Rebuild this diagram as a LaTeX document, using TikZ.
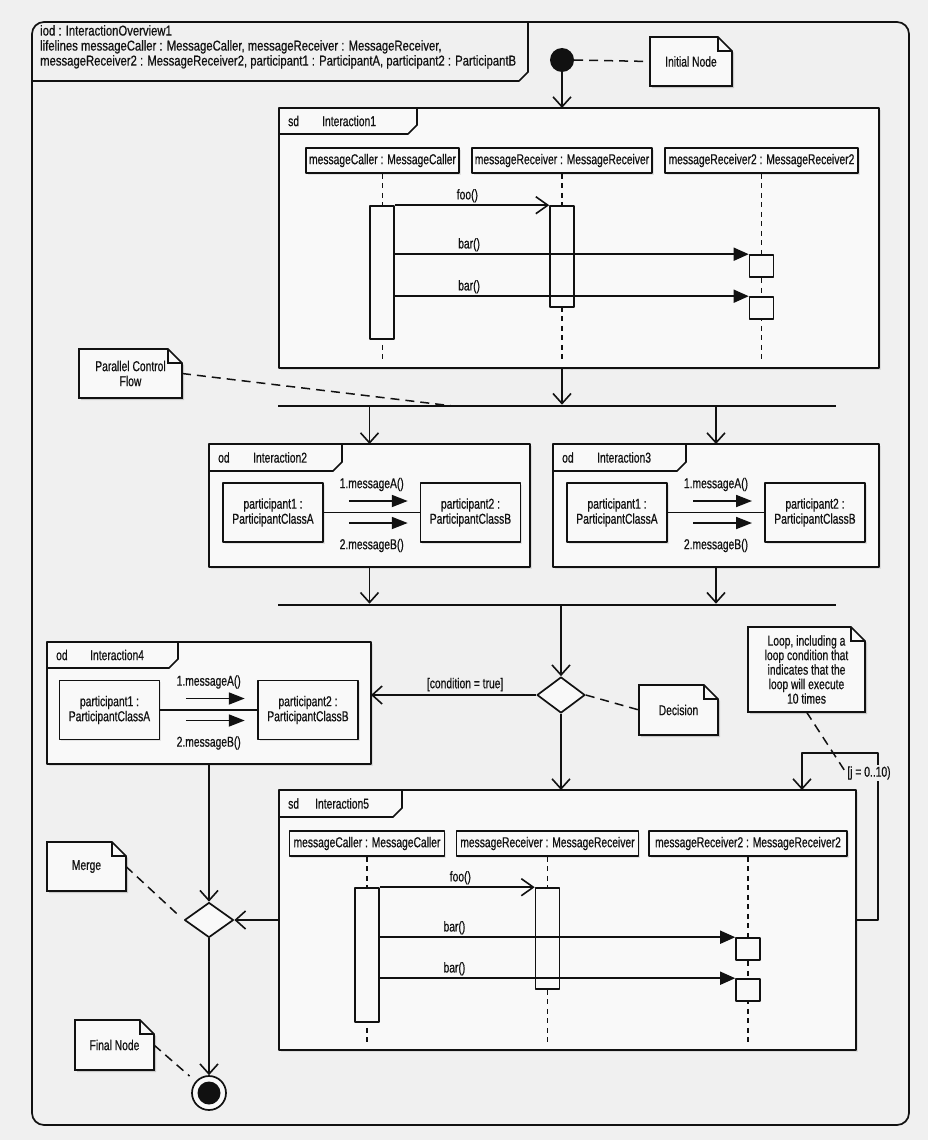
\documentclass[tikz,border=0pt]{standalone}
\usepackage{fontspec}
\setmainfont{Liberation Sans}[FakeStretch=0.72, FakeBold=0.6]
\newfontfamily\hdrfont{Liberation Sans}[FakeStretch=0.79, FakeBold=0.6]
\usetikzlibrary{arrows.meta,shadows,calc,shapes.geometric}
\definecolor{bg}{HTML}{F0F0F0}
\definecolor{boxfill}{HTML}{F9F9F9}
\definecolor{ink}{HTML}{111111}
\pgfdeclarelayer{back}
\pgfdeclarelayer{notes}
\pgfsetlayers{back,notes,main}
\tikzset{
 outline/.style={draw=ink, line width=1.7pt},
 frame/.style={outline, fill=boxfill, inner sep=0pt, outer sep=0pt, drop shadow={shadow xshift=2pt,shadow yshift=-2pt,opacity=.18}},
 head/.style={outline, line width=1.6pt, fill=boxfill, inner sep=2pt, minimum height=25pt, drop shadow={shadow xshift=1.5pt,shadow yshift=-1.5pt,opacity=.18}},
 act/.style={outline, line width=1.6pt, fill=boxfill, minimum width=24pt, inner sep=0pt},
 part/.style={outline, fill=boxfill, align=center, minimum width=100pt, minimum height=59pt, inner sep=2pt, drop shadow={shadow xshift=1.5pt,shadow yshift=-1.5pt,opacity=.18}},
 note/.style={align=center, inner sep=2pt, outer sep=0pt},
 flow/.style={draw=ink, line width=1.6pt, -{Straight Barb[length=10pt,width=18pt]}},
 call/.style={draw=ink, line width=1.6pt, -{Straight Barb[length=12pt,width=17pt]}},
 sync/.style={draw=ink, line width=1.6pt, -{Triangle[length=15pt,width=13pt]}},
 synctwo/.style={draw=ink, line width=1.8pt, -{Triangle[length=16pt,width=12pt]}},
 lifeline/.style={draw=ink, line width=1.5pt, dash pattern=on 5pt off 4.5pt},
 anchorline/.style={draw=ink, line width=1.5pt, dash pattern=on 9pt off 6pt},
 bar/.style={fill=ink, inner sep=0pt, outer sep=0pt, minimum height=2.6pt},
 lbl/.style={inner sep=1pt},
 every node/.append style={font=\fontsize{14.3}{15}\selectfont, text=ink},
}
\newcommand\drawnote[1]{%
 \begin{pgfonlayer}{notes}
 \fill[black, opacity=.16] ($(#1.north west)+(2,2)$) -- ($(#1.north east)+(-12,2)$) -- ($(#1.north east)+(2,16)$) -- ($(#1.south east)+(2,2)$) -- ($(#1.south west)+(2,2)$) -- cycle;
 \draw[outline, fill=boxfill] (#1.north west) -- ($(#1.north east)+(-14,0)$) -- ($(#1.north east)+(0,14)$) -- (#1.south east) -- (#1.south west) -- cycle;
 \draw[outline] ($(#1.north east)+(-14,0)$) |- ($(#1.north east)+(0,14)$);
 \end{pgfonlayer}}
\newcommand\frametab[6]{%
 \draw[outline] ($(#1.north west)+(0,#3)$) -- ($(#1.north west)+(#2-9,#3)$) -- ($(#1.north west)+(#2,#3-9)$) -- ($(#1.north west)+(#2,0)$);
 \node[anchor=west, inner sep=0pt] (#1kind) at ($(#1.north west)+(9,#3/2)$) {#4};
 \node[anchor=west, inner sep=0pt] (#1title) at ($(#1.north west)+(#5,#3/2)$) {#6};}
\newcommand\collab[4]{%
 \node[part] (#1a) at (#2,#4) {participant1 :\\ParticipantClassA};
 \node[part] (#1b) at (#3,#4) {participant2 :\\ParticipantClassB};
 \draw[outline, line width=1.6pt] (#1a.east) -- (#1b.west);
 \coordinate (#1m) at ($(#1a.east)!0.5!(#1b.west)$);
 \draw[synctwo] ($(#1m)+(-23,-11.5)$) -- ++(59,0);
 \draw[synctwo] ($(#1m)+(-23,10.5)$) -- ++(59,0);
 \node[lbl] (#1la) at ($(#1m)+(0,-28)$) {1.messageA()};
 \node[lbl] (#1lb) at ($(#1m)+(0,33)$) {2.messageB()};}
\begin{document}
\begin{tikzpicture}[x=1pt,y=-1pt, line join=round]
\useasboundingbox (0,0) rectangle (928,1140);
\begin{pgfonlayer}{back}
 \fill[bg] (0,0) rectangle (928,1140);
 \draw[outline, fill=bg, rounded corners=12pt] (32,22) rectangle (909,1125);
\end{pgfonlayer}
% header
\draw[outline] (32,81) -- (519,81) -- (528,72) -- (528,22);
\node[anchor=north west, align=left, inner sep=0pt, font=\hdrfont\fontsize{14.3}{15}\selectfont] (hdr) at (40,25) {iod : InteractionOverview1\\lifelines messageCaller : MessageCaller, messageReceiver : MessageReceiver,\\messageReceiver2 : MessageReceiver2, participant1 : ParticipantA, participant2 : ParticipantB};

% initial node
\node[circle, fill=ink, minimum size=24pt, inner sep=0pt] (init) at (562,60) {};
\node[note, minimum width=82pt, minimum height=49pt] (ninit) at (691,61.5) {Initial Node};
\drawnote{ninit}
\draw[anchorline] (init.east) -- (ninit.west);

% Interaction1
\node[frame, minimum width=600pt, minimum height=260pt] (I1) at (579,238) {};
\frametab{I1}{138}{26}{sd}{43}{Interaction1}
\node[head, minimum width=153pt] (h1a) at (382.5,160.5) {messageCaller : MessageCaller};
\node[head, minimum width=180pt] (h1b) at (562,160.5) {messageReceiver : MessageReceiver};
\node[head, minimum width=193pt] (h1c) at (761.5,160.5) {messageReceiver2 : MessageReceiver2};
\draw[lifeline] (h1a.south) -- ($(h1a.south)+(0,187)$);
\draw[lifeline] (h1b.south) -- ($(h1b.south)+(0,187)$);
\draw[lifeline] (h1c.south) -- ($(h1c.south)+(0,187)$);
\node[act, minimum height=133pt] (a1) at (382,272.5) {};
\node[act, minimum height=101pt] (r1) at (562,256.5) {};
\node[act, minimum height=22pt] (s1a) at (761.5,266) {};
\node[act, minimum height=22pt] (s1b) at (761.5,308) {};
\draw[call] (a1.north east) -- (r1.north west) node[lbl, pos=0.47, above=1pt] (f1) {foo()};
\draw[sync] (a1.east |- s1a.north west) -- (s1a.north west) node[lbl, pos=0.21, above=1pt] (b1a) {bar()};
\draw[sync] (a1.east |- s1b.north west) -- (s1b.north west) node[lbl, pos=0.21, above=1pt] (b1b) {bar()};
\draw[flow] (init.south) -- (init.south |- I1.north);

% fork
\node[bar, minimum width=558pt] (fork) at (557,406) {};
\draw[flow] (I1.south -| init) -- (fork.north -| init);
\node[note, minimum width=103pt, minimum height=49pt] (npar) at (130.5,373.5) {Parallel Control\\Flow};
\drawnote{npar}
\draw[anchorline] (npar.east) -- ($(fork.west)+(175,0)$);

% Interaction2 and 3
\node[frame, minimum width=321pt, minimum height=123pt] (I2) at (369.5,505.5) {};
\frametab{I2}{133}{27}{od}{44}{Interaction2}
\collab{p2}{273}{470.5}{512.5}
\node[frame, minimum width=326pt, minimum height=123pt] (I3) at (716,505.5) {};
\frametab{I3}{133}{27}{od}{44}{Interaction3}
\collab{p3}{617}{815}{512.5}
\draw[flow] (fork.south -| I2.north) -- (I2.north);
\draw[flow] (fork.south -| I3.north) -- (I3.north);

% join
\node[bar, minimum width=558pt] (join) at (557,605) {};
\draw[flow] (I2.south) -- (I2.south |- join.north);
\draw[flow] (I3.south) -- (I3.south |- join.north);

% decision
\node[diamond, outline, fill=boxfill, minimum width=48pt, minimum height=36pt, inner sep=0pt] (dec) at (561,695) {};
\draw[flow] (join.south -| dec.north) -- (dec.north);
\node[note, minimum width=79pt, minimum height=50pt] (ndec) at (678.5,710) {Decision};
\drawnote{ndec}
\draw[anchorline] (dec.east) -- (ndec.west);

% Interaction4
\node[frame, minimum width=324pt, minimum height=122pt] (I4) at (209,703) {};
\frametab{I4}{131}{26}{od}{43}{Interaction4}
\collab{p4}{109.5}{308}{710}
\draw[flow] (dec.west) -- (dec.west -| I4.east) node[lbl, pos=0.43, above=2pt] (cond) {[condition = true]};

% Interaction5
\node[frame, minimum width=577pt, minimum height=260pt] (I5) at (567.5,920) {};
\frametab{I5}{123}{27}{sd}{36}{Interaction5}
\node[head, minimum width=155pt] (h5a) at (367,843.5) {messageCaller : MessageCaller};
\node[head, minimum width=182pt] (h5b) at (547.5,843.5) {messageReceiver : MessageReceiver};
\node[head, minimum width=198pt] (h5c) at (748,843.5) {messageReceiver2 : MessageReceiver2};
\draw[lifeline] (h5a.south) -- ($(h5a.south)+(0,187)$);
\draw[lifeline] (h5b.south) -- ($(h5b.south)+(0,187)$);
\draw[lifeline] (h5c.south) -- ($(h5c.south)+(0,187)$);
\node[act, minimum height=134pt] (a5) at (367,955) {};
\node[act, minimum height=101pt] (r5) at (547.5,938.5) {};
\node[act, minimum height=22pt] (s5a) at (748,949) {};
\node[act, minimum height=22pt] (s5b) at (748,990) {};
\draw[call] (a5.north east) -- (r5.north west) node[lbl, pos=0.52, above=1pt] (f5) {foo()};
\draw[sync] (a5.east |- s5a.north west) -- (s5a.north west) node[lbl, pos=0.21, above=1pt] (b5a) {bar()};
\draw[sync] (a5.east |- s5b.north west) -- (s5b.north west) node[lbl, pos=0.21, above=1pt] (b5b) {bar()};
\draw[flow] (dec.south) -- (dec.south |- I5.north);

% loop
\coordinate (loopTR) at (878,753);
\coordinate (loopTL) at (802,753);
\draw[flow] (I5.east) -| (loopTR) -- (loopTL) -- (loopTL |- I5.north);
\node[fill=bg, inner sep=1pt] (jl) at (869,773) {[j = 0..10)};
\node[note, minimum width=117pt, minimum height=85pt, font=\fontsize{14.3}{14.5}\selectfont] (nloop) at (806.5,669.5) {Loop, including a\\loop condition that\\indicates that the\\loop will execute\\10 times};
\drawnote{nloop}
\draw[anchorline] (nloop.south) -- (jl.west);

% merge
\node[diamond, outline, fill=boxfill, minimum width=49pt, minimum height=35pt, inner sep=0pt] (merge) at (209,920) {};
\draw[flow] (I4.south -| merge.north) -- (merge.north);
\draw[flow] (I5.west |- merge.east) -- (merge.east);
\node[note, minimum width=79pt, minimum height=49pt] (nmerge) at (86.5,866.5) {Merge};
\drawnote{nmerge}
\draw[anchorline, shorten >=8pt] (nmerge.east) -- (merge.west);

% final
\node[circle, outline, fill=boxfill, minimum size=34pt, inner sep=0pt] (final) at (209,1093) {};
\node[circle, fill=ink, minimum size=23pt, inner sep=0pt] (finalin) at (final.center) {};
\draw[flow] (merge.south) -- (final.north);
\node[note, minimum width=79pt, minimum height=50pt] (nfinal) at (114.5,1045) {Final Node};
\drawnote{nfinal}
\draw[anchorline, shorten >=8pt] (nfinal.east) -- (final);
\end{tikzpicture}
\end{document}
